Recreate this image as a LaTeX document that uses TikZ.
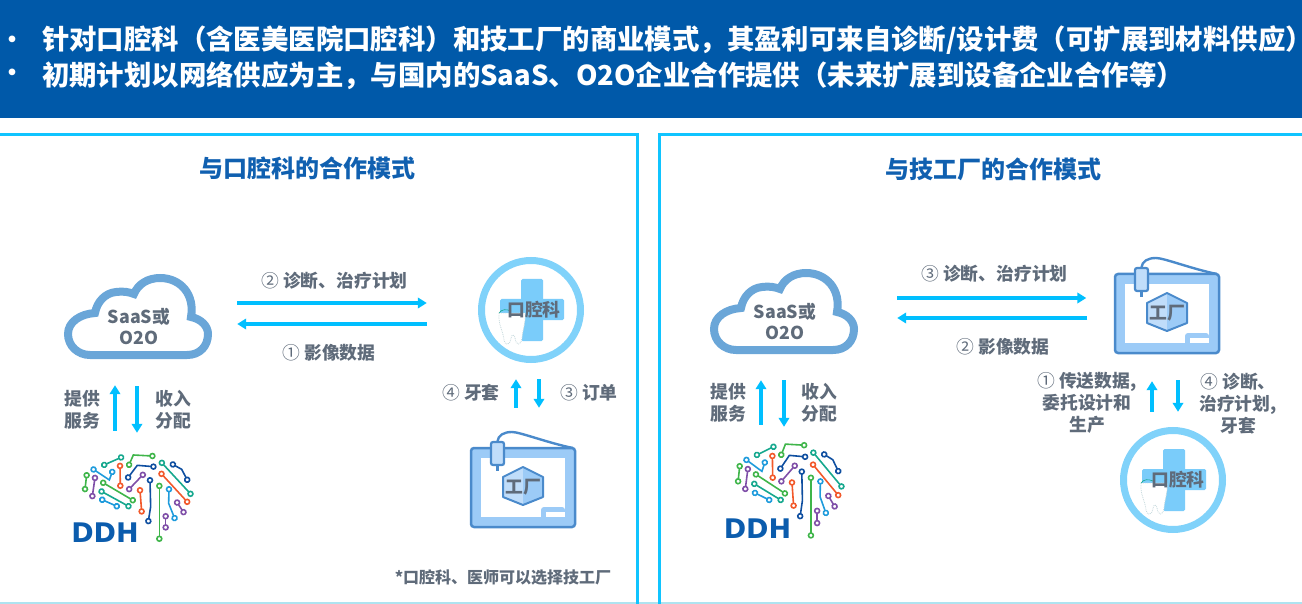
\documentclass[tikz,border=0pt]{standalone}
\usepackage{fontspec}
\setmainfont{Noto Sans CJK SC}
\newfontfamily\logofont{DejaVu Sans}
\usetikzlibrary{arrows.meta}
\definecolor{headblue}{HTML}{0059A9}
\definecolor{logoblue}{HTML}{0B5CAD}
\definecolor{titleblue}{HTML}{1060B0}
\definecolor{panelcyan}{HTML}{10C4FF}
\definecolor{panellight}{HTML}{AEE3F0}
\definecolor{flowcyan}{HTML}{00BFFF}
\definecolor{labelgrey}{HTML}{5F6B7A}
\definecolor{cloudblue}{HTML}{6AA6D8}
\definecolor{ringblue}{HTML}{80D2FA}
\definecolor{crossblue}{HTML}{7ACCFA}
\definecolor{factline}{HTML}{4A8ACB}
\definecolor{factfill}{HTML}{9CCBF7}
\definecolor{factpale}{HTML}{C0DDFA}
\definecolor{toothgrey}{HTML}{C4D8DC}
\definecolor{wiregreen}{HTML}{3FB54A}
\definecolor{wireteal}{HTML}{16A88E}
\definecolor{wirepurple}{HTML}{7F4FA8}
\definecolor{wireorange}{HTML}{F2592B}
\definecolor{wirenavy}{HTML}{0F4FA0}
\definecolor{wiresky}{HTML}{1E9BDC}
\newcommand{\stepmark}[1]{{\mdseries #1}\hspace{4pt}}
\tikzset{
    headtext/.style={anchor=west,text=white,font=\fontsize{27.4}{32}\selectfont\bfseries},
    headdot/.style={text=white,font=\fontsize{24}{28}\selectfont\bfseries},
    paneltitle/.style={text=titleblue,font=\fontsize{24}{28}\selectfont\bfseries},
    lbl/.style={text=labelgrey,align=center,font=\fontsize{17.8}{22}\selectfont\bfseries},
    iconlbl/.style={text=labelgrey,align=center,font=\fontsize{17.8}{21}\selectfont\bfseries},
    logolbl/.style={text=logoblue,font=\logofont\fontsize{27}{27}\selectfont\bfseries},
    flow/.style={flowcyan,line width=3.2pt,-{Triangle[length=9pt,width=10.5pt]}},
    wire/.style={line width=1.6pt,shorten <=-3pt,shorten >=-3pt,{Circle[open,fill=white,length=6.5pt]}-{Circle[open,fill=white,length=6.5pt]}},
    cloudicon/.pic={
        \draw[cloudblue,fill=white,line width=8pt] (-49,39) -- (48,39) .. controls (61,39) and (69,30) .. (69,18) .. controls (69,10) and (62,3) .. (52,1) .. controls (56,-21) and (42,-38) .. (21,-38) .. controls (9,-38) and (-1,-32) .. (-5,-22) .. controls (-10,-24) and (-16,-25) .. (-23,-24) .. controls (-34,-23) and (-42,-14) .. (-44,-3) .. controls (-59,-2) and (-71,6) .. (-71,18) .. controls (-71,30) and (-61,39) .. (-49,39) -- cycle;
    },
    clinicicon/.pic={
        \draw[ringblue,fill=white,line width=7pt] (0,0) circle (49.5pt);
        \fill[crossblue,rounded corners=1.5pt] (-10,-31) rectangle (12,31);
        \fill[crossblue,rounded corners=1.5pt] (-31,-11) rectangle (33,10);
        \draw[toothgrey,fill=white,densely dotted,line width=.8pt] (-32,3) .. controls (-33,15) and (-28,20) .. (-27,30) .. controls (-26,36) and (-21,36) .. (-20,28) .. controls (-19,24) and (-17,24) .. (-16,28) .. controls (-15,36) and (-10,36) .. (-9,28) .. controls (-8,18) and (-5,12) .. (-6,3) -- cycle;
        \draw[wireteal,line width=.6pt] (-32,3) .. controls (-29,-1) and (-25,-1) .. (-20,1);
    },
    factoryicon/.pic={
        \draw[factline,line width=2.5pt,rounded corners=3pt,fill=factfill] (-52,-39) rectangle (52,40);
        \fill[white] (-42,-29) rectangle (42,30);
        \fill[factfill,rounded corners=3pt] (18,30) -- (18,20) -- (42,20) -- (42,30) -- cycle;
        \fill[factfill] (18,25) rectangle (23,30);
        \fill[white] (23,25) rectangle (42,30);
        \draw[factline,line width=2.4pt] (-25.7,-45) .. controls (-25,-52) and (-19,-55) .. (-11,-55) .. controls (-3,-55) and (25,-44) .. (50,-39);
        \draw[factline,line width=2.4pt] (-25.7,-22) -- (-25.7,-16);
        \draw[factline,line width=2.2pt,rounded corners=2pt,fill=factpale] (-32,-45) rectangle (-19,-22);
        \fill[factpale] (0,-20) -- (-20,-10) -- (-20,10) -- (0,18) -- cycle;
        \fill[factfill] (0,-20) -- (20,-10) -- (20,10) -- (0,18) -- cycle;
        \draw[factline,line width=2pt,line join=round] (0,-20) -- (20,-10) -- (20,10) -- (0,18) -- (-20,10) -- (-20,-10) -- cycle;
    },
    brainicon/.pic={
        \begin{scope}[shift={(-79,-47)},x=.3333pt,y=-.3333pt]
            \draw[wire,wiregreen] (75,148) -- (80,105);
            \draw[wire,wirepurple] (97,169) -- (105,113);
            \draw[wire,wireteal] (132,75) -- (184,52);
            \draw[wire,wiresky] (100,88) -- (148,120) -- (157,95);
            \draw[wire,wireorange] (180,77) -- (181,138);
            \draw[wire,wiregreen] (207,75) -- (220,45) -- (278,48);
            \draw[wire,wirenavy] (204,113) -- (232,76) -- (281,80);
            \draw[wire,wirepurple] (207,148) -- (249,104);
            \draw[wire,wiregreen] (129,128) -- (219,181);
            \draw[wire,wireteal] (124,154) -- (206,199);
            \draw[wire,wiresky] (126,179) -- (171,199);
            \draw[wire,wireorange] (240,150) -- (245,215);
            \draw[wire,wirenavy] (270,120) -- (272,200) -- (265,244);
            \draw[wire,wiregreen] (298,137) -- (298,297);
            \draw[wire,wireteal] (305,68) -- (392,162);
            \draw[wire,wirenavy] (338,73) -- (365,88) -- (382,120);
            \draw[wire,wireorange] (304,101) -- (382,186);
            \draw[wire,wiresky] (327,147) -- (326,190) -- (344,235);
            \draw[wire,wirepurple] (351,187) -- (371,217);
            \draw[wire,wirepurple] (317,228) -- (317,263);
        \end{scope}
    },
}
\begin{document}
\begin{tikzpicture}[x=1pt,y=-1pt]
    \useasboundingbox (0,0) rectangle (1302,604);
    % header
    \fill[headblue] (0,0) rectangle (1302,118);
    \node[headdot] (bulletA) at (13,42) {•};
    \node[headdot] (bulletB) at (13,75) {•};
    \node[headtext] (headA) at (38.5,40) {针对口腔科（含医美医院口腔科）和技工厂的商业模式，其盈利可来自诊断/设计费（可扩展到材料供应）\hspace{-15pt}};
    \node[headtext] (headB) at (38.5,75.5) {初期计划以网络供应为主，与国内的SaaS、O2O企业合作提供（未来扩展到设备企业合作等）};
    % panels
    \draw[panellight,line width=2pt] (0,603) -- (1302,603);
    \draw[panelcyan,line width=2.4pt] (0,134.5) -- (637.5,134.5) -- (637.5,604);
    \draw[panelcyan,line width=2.4pt] (659.5,604) -- (659.5,134.5) -- (1302,134.5);
    \node[paneltitle] (titleL) at (307,168) {与口腔科的合作模式};
    \node[paneltitle] (titleR) at (993,169) {与技工厂的合作模式};
    % left panel
    \pic at (139,316) {cloudicon};
    \pic at (531,310) {clinicicon};
    \pic at (523,487) {factoryicon};
    \pic at (139,487) {brainicon};
    \node[iconlbl,minimum width=148pt,minimum height=84pt] (cloudL) at (139,326) {SaaS或\\O2O};
    \node[iconlbl,minimum size=106pt] (clinicL) at (534,310) {口腔科};
    \node[iconlbl,minimum width=107pt,minimum height=80pt] (factoryL) at (523,487) {工厂};
    \node[minimum width=112pt,minimum height=108pt] (brainL) at (139,487) {};
    \node[logolbl] (ddhL) at (105,533) {DDH};
    \draw[flow,shorten <=24pt,shorten >=54pt] ([yshift=23pt]cloudL.east) -- ([yshift=7pt]clinicL.west);
    \draw[flow,shorten <=54pt,shorten >=24pt] ([yshift=-14pt]clinicL.west) -- ([yshift=2pt]cloudL.east);
    \draw[flow,shorten <=2pt,shorten >=17pt] ([xshift=-24pt]brainL.north) -- ([xshift=-24pt]cloudL.south);
    \draw[flow,shorten <=18pt,shorten >=0pt] ([xshift=-2pt]cloudL.south) -- ([xshift=-2pt]brainL.north);
    \draw[flow,shorten <=39pt,shorten >=16pt] ([xshift=-7pt]factoryL.north) -- ([xshift=-18pt]clinicL.south);
    \draw[flow,shorten <=16pt,shorten >=39pt] ([xshift=5pt]clinicL.south) -- ([xshift=16pt]factoryL.north);
    \node[lbl] (planL) at (334.5,281) {\stepmark{②}诊断、治疗计划};
    \node[lbl] (imageL) at (329,353) {\stepmark{①}影像数据};
    \node[lbl] (serveL) at (82,410) {提供\\服务};
    \node[lbl] (shareL) at (173,410) {收入\\分配};
    \node[lbl] (alignL) at (471,393) {\stepmark{④}牙套};
    \node[lbl] (orderL) at (589,393) {\stepmark{③}订单};
    \node[lbl,font=\fontsize{16}{20}\selectfont\bfseries] (noteL) at (503,577) {*口腔科、医师可以选择技工厂};
    % right panel
    \pic at (785,311) {cloudicon};
    \pic at (1167,313) {factoryicon};
    \pic at (1173,480) {clinicicon};
    \pic[xscale=.98,yscale=1.09] at (791,479) {brainicon};
    \node[iconlbl,minimum width=148pt,minimum height=84pt] (cloudR) at (785,321) {SaaS或\\O2O};
    \node[iconlbl,minimum width=107pt,minimum height=80pt] (factoryR) at (1167,313) {工厂};
    \node[iconlbl,minimum size=106pt] (clinicR) at (1178,480) {口腔科};
    \node[minimum width=112pt,minimum height=108pt] (brainR) at (785,485) {};
    \node[logolbl] (ddhR) at (757.5,529) {DDH};
    \draw[flow,shorten <=38pt,shorten >=27pt] ([yshift=23pt]cloudR.east) -- ([yshift=15pt]factoryR.west);
    \draw[flow,shorten <=26pt,shorten >=38pt] ([yshift=-5pt]factoryR.west) -- ([yshift=3pt]cloudR.east);
    \draw[flow,shorten <=6pt,shorten >=17pt] ([xshift=-24pt]brainR.north) -- ([xshift=-24pt]cloudR.south);
    \draw[flow,shorten <=17pt,shorten >=4pt] ([xshift=-1pt]cloudR.south) -- ([xshift=-1pt]brainR.north);
    \draw[flow,shorten <=15pt,shorten >=28pt] ([xshift=-26pt]clinicR.north) -- ([xshift=-15pt]factoryR.south);
    \draw[flow,shorten <=27pt,shorten >=15pt] ([xshift=11pt]factoryR.south) -- ([xshift=0pt]clinicR.north);
    \node[lbl] (planR) at (994.5,274) {\stepmark{③}诊断、治疗计划};
    \node[lbl] (imageR) at (1003,347) {\stepmark{②}影像数据};
    \node[lbl] (serveR) at (728,403) {提供\\服务};
    \node[lbl] (shareR) at (819,403) {收入\\分配};
    \node[lbl] (sendR) at (1087,403) {\stepmark{①}传送数据,\\委托设计和\\生产};
    \node[lbl] (backR) at (1238,404) {\stepmark{④}诊断、\\治疗计划,\\牙套};
\end{tikzpicture}
\end{document}
